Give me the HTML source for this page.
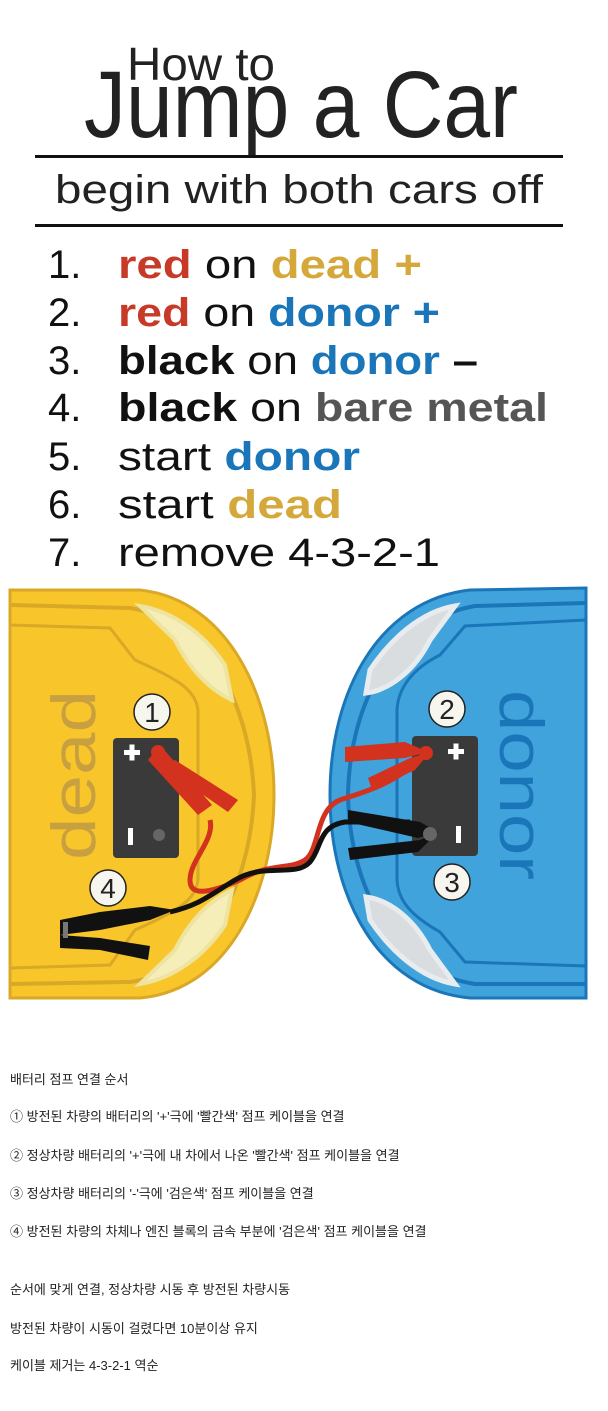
<!DOCTYPE html>
<html><head><meta charset="utf-8"><style>
html,body{margin:0;padding:0;background:#fff;width:608px;height:1411px;overflow:hidden}
.k{position:absolute;left:10px;font:13px "Liberation Sans","Noto Sans CJK KR","NanumGothic",sans-serif;color:#222;white-space:nowrap}
</style></head><body>
<svg width="608" height="1000" style="position:absolute;left:0;top:0" font-family="Liberation Sans, DejaVu Sans, sans-serif">
<text x="127" y="80" font-size="46" fill="#222" textLength="148" lengthAdjust="spacingAndGlyphs">How to</text>
<text x="84" y="137" font-size="95" fill="#222" textLength="434" lengthAdjust="spacingAndGlyphs">Jump a Car</text>
<rect x="35" y="155" width="528" height="3" fill="#111"/>
<text x="55" y="203" font-size="40" fill="#222" textLength="488" lengthAdjust="spacingAndGlyphs">begin with both cars off</text>
<rect x="35" y="224" width="528" height="3" fill="#111"/>
<g font-size="40" fill="#111">
<text x="48" y="278">1.</text><text x="48" y="326">2.</text><text x="48" y="374">3.</text><text x="48" y="421">4.</text><text x="48" y="470">5.</text><text x="48" y="518">6.</text><text x="48" y="566">7.</text>
<text x="118" y="278" textLength="304" lengthAdjust="spacingAndGlyphs"><tspan fill="#c83a28" font-weight="bold">red</tspan> on <tspan fill="#d4a83a" font-weight="bold">dead +</tspan></text>
<text x="118" y="326" textLength="322" lengthAdjust="spacingAndGlyphs"><tspan fill="#c83a28" font-weight="bold">red</tspan> on <tspan fill="#1a76b8" font-weight="bold">donor +</tspan></text>
<text x="118" y="374" textLength="360" lengthAdjust="spacingAndGlyphs"><tspan font-weight="bold">black</tspan> on <tspan fill="#1a76b8" font-weight="bold">donor</tspan> <tspan font-weight="bold">–</tspan></text>
<text x="118" y="421" textLength="430" lengthAdjust="spacingAndGlyphs"><tspan font-weight="bold">black</tspan> on <tspan fill="#555" font-weight="bold">bare metal</tspan></text>
<text x="118" y="470" textLength="242" lengthAdjust="spacingAndGlyphs">start <tspan fill="#1a76b8" font-weight="bold">donor</tspan></text>
<text x="118" y="518" textLength="224" lengthAdjust="spacingAndGlyphs">start <tspan fill="#d4a83a" font-weight="bold">dead</tspan></text>
<text x="118" y="566" textLength="322" lengthAdjust="spacingAndGlyphs">remove 4-3-2-1</text>
</g>
<!-- yellow car -->
<path d="M10,590 L140,590 C230,600 274,700 274,795 C274,890 230,990 140,998 L10,998 Z" fill="#f8c62a" stroke="#d9a827" stroke-width="3"/>
<path d="M10,605 L130,608 C205,620 250,700 254,795 C250,890 205,972 130,982 L10,984" fill="none" stroke="#d9a827" stroke-width="4"/>
<path d="M10,625 L110,628 L135,660 C180,680 195,690 198,710 L198,880 C195,900 180,910 135,930 L110,965 L10,968" fill="none" stroke="#d9a827" stroke-width="3"/>
<path d="M140,606 C175,612 205,635 225,665 L232,700 C210,690 190,670 175,640 Z" fill="#f5eeb8" stroke="#efe3a0" stroke-width="4"/>
<path d="M140,984 C175,978 205,955 225,925 L232,890 C210,900 190,920 175,950 Z" fill="#f5eeb8" stroke="#efe3a0" stroke-width="4"/>
<text transform="translate(95,860) rotate(-90)" font-size="62" fill="#c9a040" textLength="170" lengthAdjust="spacingAndGlyphs">dead</text>
<!-- blue car -->
<path d="M586,588 L470,590 C380,600 330,690 330,795 C330,900 380,990 470,998 L586,998 Z" fill="#41a3dc" stroke="#1a76b8" stroke-width="3"/>
<path d="M586,603 L475,606 C395,620 350,700 348,795 C350,890 395,972 475,984 L586,984" fill="none" stroke="#1a76b8" stroke-width="4"/>
<path d="M586,620 L465,626 L440,655 C410,670 398,690 397,710 L397,880 C398,900 410,915 440,932 L465,962 L586,966" fill="none" stroke="#1a76b8" stroke-width="3"/>
<path d="M455,606 C420,612 390,640 370,670 L366,693 C390,690 415,670 430,640 Z" fill="#d9dde0" stroke="#e8ecef" stroke-width="5"/>
<path d="M455,984 C420,978 390,950 370,920 L366,897 C390,900 415,920 430,950 Z" fill="#d9dde0" stroke="#e8ecef" stroke-width="5"/>
<text transform="translate(500,690) rotate(90)" font-size="62" fill="#1a76b8" textLength="190" lengthAdjust="spacingAndGlyphs">donor</text>
<!-- batteries -->
<rect x="113" y="738" width="66" height="120" rx="4" fill="#3a3a3a"/>
<rect x="412" y="736" width="66" height="120" rx="4" fill="#3a3a3a"/>
<g fill="#fff"><rect x="124" y="750" width="16" height="5"/><rect x="129.5" y="744.5" width="5" height="16"/>
<rect x="128" y="828" width="5" height="17"/>
<rect x="448" y="749" width="16" height="5"/><rect x="453.5" y="743.5" width="5" height="16"/>
<rect x="456" y="826" width="5" height="17"/></g>
<circle cx="159" cy="835" r="6" fill="#666"/>
<!-- cables -->
<path d="M210,820 C215,840 190,860 190,880 C190,895 205,895 240,880 C270,862 290,870 305,860 C320,850 315,810 340,800 C370,790 390,785 420,760" fill="none" stroke="#d2321e" stroke-width="5"/>
<path d="M170,912 C200,905 210,895 235,880 C265,862 295,878 310,862 C322,848 318,826 345,822 L410,822" fill="none" stroke="#111" stroke-width="5"/>
<!-- red clamps -->
<g fill="#d2321e"><path d="M148,760 L160,745 L212,805 L198,815 Z"/><path d="M160,765 L175,760 L238,800 L228,812 Z"/><circle cx="158" cy="752" r="7"/>
<path d="M345,747 L405,742 L428,752 L405,758 L345,762 Z"/><path d="M368,778 L410,758 L430,752 L415,770 L372,790 Z"/><circle cx="426" cy="753" r="7"/></g>
<!-- black clamps -->
<g fill="#111"><path d="M348,810 L420,822 L438,832 L418,838 L348,822 Z"/><path d="M348,848 L420,840 L438,832 L418,852 L350,860 Z"/></g>
<circle cx="430" cy="834" r="7" fill="#666"/>
<g fill="#111"><path d="M60,920 L100,912 L150,906 L175,910 L150,920 L100,930 L60,935 Z"/><path d="M60,935 L100,938 L150,946 L148,960 L100,950 L60,948 Z"/></g>
<rect x="63" y="922" width="5" height="16" fill="#777"/>
<!-- numbered circles -->
<g fill="#f6f6ee" stroke="#222" stroke-width="1.5"><circle cx="152" cy="712" r="18"/><circle cx="447" cy="709" r="18"/><circle cx="452" cy="882" r="18"/><circle cx="108" cy="888" r="18"/></g>
<g font-size="28" fill="#222" text-anchor="middle"><text x="152" y="722">1</text><text x="447" y="719">2</text><text x="452" y="892">3</text><text x="108" y="898">4</text></g>
</svg>
<div class="k" style="top:1069px">배터리 점프 연결 순서</div>
<div class="k" style="top:1106px">① 방전된 차량의 배터리의 '+'극에 '빨간색' 점프 케이블을 연결</div>
<div class="k" style="top:1145px">② 정상차량 배터리의 '+'극에 내 차에서 나온 '빨간색' 점프 케이블을 연결</div>
<div class="k" style="top:1183px">③ 정상차량 배터리의 '-'극에 '검은색' 점프 케이블을 연결</div>
<div class="k" style="top:1221px">④ 방전된 차량의 차체나 엔진 블록의 금속 부분에 '검은색' 점프 케이블을 연결</div>
<div class="k" style="top:1279px">순서에 맞게 연결, 정상차량 시동 후 방전된 차량시동</div>
<div class="k" style="top:1318px">방전된 차량이 시동이 걸렸다면 10분이상 유지</div>
<div class="k" style="top:1355px">케이블 제거는 4-3-2-1 역순</div>
</body></html>
